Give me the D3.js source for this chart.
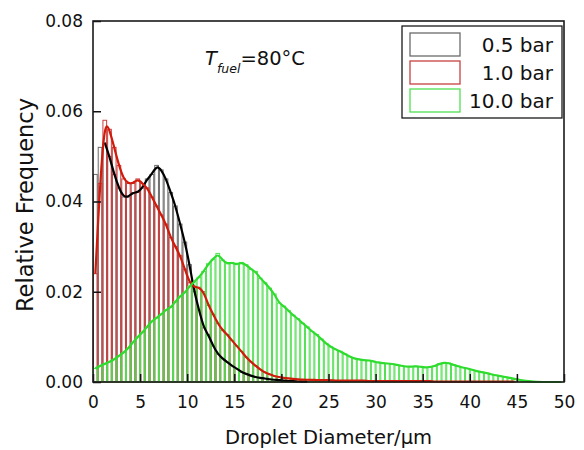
<!DOCTYPE html>
<html>
<head>
<meta charset="utf-8">
<script src="https://cdn.jsdelivr.net/npm/d3@7"></script>
<style>
  body { margin: 0; background: #fff; }
  text { font-family: "DejaVu Sans", sans-serif; }
</style>
</head>
<body>
<div class="d3Chart"></div>
<script>
//#region data

var binWidth = 0.5; // µm
var xTicks = [0, 5, 10, 15, 20, 25, 30, 35, 40, 45, 50];
var yTicks = [0, 0.02, 0.04, 0.06, 0.08];
var seriesNames = ["0.5 bar", "1.0 bar", "10.0 bar"];

// relative frequency per 0.5 µm bin, starting at 0 µm
var bar05 = [
  0.046, 0.052, 0.053, 0.05, 0.046, 0.043, 0.041, 0.041, 0.042, 0.042,
  0.043, 0.045, 0.046, 0.048, 0.047, 0.045, 0.042, 0.039, 0.035, 0.031,
  0.026, 0.02, 0.016, 0.012, 0.0105, 0.008, 0.0062, 0.0052, 0.0044, 0.0036,
  0.003, 0.0022, 0.0018, 0.0014, 0.0011, 0.0009, 0.0008, 0.0006, 0.0005, 0.0004,
  0.0003, 0.0002, 0.0002, 0.0001, 0.0001, 0.0001,
];
var bar10 = [
  0.024, 0.044, 0.058, 0.056, 0.052, 0.048, 0.045, 0.044, 0.044, 0.045,
  0.044, 0.043, 0.041, 0.039, 0.037, 0.035, 0.032, 0.03, 0.028, 0.025,
  0.022, 0.021, 0.021, 0.02, 0.017, 0.015, 0.013, 0.0115, 0.0105, 0.0092,
  0.008, 0.0068, 0.0055, 0.0045, 0.0036, 0.0028, 0.0021, 0.0017, 0.0013, 0.0011,
  0.0009, 0.0008, 0.0007, 0.0006, 0.0005, 0.0005, 0.0005, 0.0004, 0.0004, 0.0004,
  0.0004, 0.0003, 0.0003, 0.0003, 0.0003, 0.0003, 0.0003, 0.0003, 0.0002, 0.0002,
  0.0002, 0.0002, 0.0002, 0.0002, 0.0002, 0.0002, 0.0002, 0.0002, 0.0002, 0.0002,
  0.0002, 0.0002, 0.0001, 0.0001, 0.0001, 0.0001, 0.0001, 0.0001, 0.0001, 0.0001,
  0.0001, 0.0001, 0.0001, 0.0001, 0.0001, 0.0001, 0.0001, 0.0001, 0.0001, 0.0001,
];
var bar100 = [
  0.003, 0.0036, 0.004, 0.0045, 0.005, 0.0058, 0.0065, 0.0075, 0.0088, 0.01,
  0.011, 0.0122, 0.0135, 0.0142, 0.015, 0.016, 0.0165, 0.0178, 0.019, 0.0198,
  0.0212, 0.0222, 0.0232, 0.0245, 0.0262, 0.0272, 0.0285, 0.027, 0.0262, 0.0265,
  0.026, 0.0265, 0.026, 0.025, 0.0245, 0.023, 0.022, 0.0208, 0.0195, 0.0175,
  0.0168, 0.0158, 0.0148, 0.014, 0.013, 0.0122, 0.0112, 0.0105, 0.0095, 0.0085,
  0.0078, 0.0072, 0.0068, 0.0062, 0.0056, 0.0052, 0.005, 0.0048, 0.0048, 0.0046,
  0.0043, 0.0042, 0.0041, 0.004, 0.0038, 0.0036, 0.0034, 0.0034, 0.0035, 0.0034,
  0.0032, 0.0033, 0.0035, 0.004, 0.0043, 0.0042, 0.0038, 0.0035, 0.0032, 0.003,
  0.0027, 0.0024, 0.0022, 0.002, 0.0017, 0.0015, 0.0013, 0.0011, 0.0009, 0.0007,
  0.0005, 0.0003, 0.0002, 0.0001, 0, 0, 0, 0, 0, 0,
];
// first bin that the smoothed curve of each series is drawn from
var curveStart = [2, 0, 0];

//#endregion

//#region canvas

var width = 584;
var height = 450;
var plot = { left: 93, right: 564, top: 21, bottom: 382 };

var svg = d3
  .select(".d3Chart")
  .append("svg")
  .attr("width", width)
  .attr("height", height)
  .style("background-color", "#fff");

var x = d3.scaleLinear().domain([0, 50]).range([plot.left, plot.right]);
var y = d3.scaleLinear().domain([0, 0.08]).range([plot.bottom, plot.top]);

var series = [
  { name: seriesNames[0], values: bar05, bar: "#6a6a6a", line: "#000000" },
  { name: seriesNames[1], values: bar10, bar: "#c84040", line: "#d01a0a" },
  { name: seriesNames[2], values: bar100, bar: "#52df52", line: "#2edc2e" },
];

//#endregion

//#region bars

var barGroup = svg.append("g");
series.forEach(function (s) {
  barGroup
    .append("g")
    .selectAll("rect")
    .data(s.values)
    .enter()
    .append("rect")
    .attr("x", (d, i) => x(i * binWidth) + 0.5)
    .attr("width", x(binWidth) - x(0) - 1)
    .attr("y", (d) => y(d))
    .attr("height", (d) => y(0) - y(d))
    .attr("fill", "none")
    .attr("stroke", s.bar)
    .attr("stroke-width", 1);
});

//#endregion

//#region lines

var line = d3
  .line()
  .x((d) => x(d.i * binWidth + binWidth / 2))
  .y((d) => y(d.v))
  .curve(d3.curveBasis);

series.forEach(function (s, k) {
  var pts = s.values
    .map((v, i) => ({ i: i, v: v }))
    .filter((d) => d.i >= curveStart[k]);
  svg
    .append("path")
    .attr("d", line(pts))
    .attr("fill", "none")
    .attr("stroke", s.line)
    .attr("stroke-width", 2.2)
    .attr("stroke-linejoin", "round");
});

//#endregion

//#region axes

var xAxis = d3
  .axisBottom(x)
  .tickValues(xTicks)
  .tickSizeInner(-8)
  .tickSizeOuter(0)
  .tickPadding(14);
var xg = svg
  .append("g")
  .attr("transform", `translate(0,${plot.bottom})`)
  .call(xAxis);
xg.select(".domain").remove();
xg.selectAll("text")
  .attr("font-size", 17)
  .attr("font-family", "DejaVu Sans")
  .attr("fill", "#111");

var yAxis = d3
  .axisLeft(y)
  .tickValues(yTicks)
  .tickFormat(d3.format(".2f"))
  .tickSizeInner(-8)
  .tickSizeOuter(0)
  .tickPadding(10);
var yg = svg
  .append("g")
  .attr("transform", `translate(${plot.left},0)`)
  .call(yAxis);
yg.select(".domain").remove();
yg.selectAll("text")
  .attr("font-size", 17)
  .attr("font-family", "DejaVu Sans")
  .attr("fill", "#111");
svg.selectAll(".tick line").attr("stroke", "#111").attr("stroke-width", 1.5);

// frame
svg
  .append("rect")
  .attr("x", plot.left)
  .attr("y", plot.top)
  .attr("width", plot.right - plot.left)
  .attr("height", plot.bottom - plot.top)
  .attr("fill", "none")
  .attr("stroke", "#1a1a1a")
  .attr("stroke-width", 1.6);

// titles
svg
  .append("text")
  .attr("x", (plot.left + plot.right) / 2)
  .attr("y", 444)
  .attr("text-anchor", "middle")
  .attr("font-size", 19.5)
  .attr("fill", "#111")
  .text("Droplet Diameter/μm");

svg
  .append("text")
  .attr("transform", "translate(33,205) rotate(-90)")
  .attr("text-anchor", "middle")
  .attr("font-size", 22.5)
  .attr("fill", "#111")
  .text("Relative Frequency");

var note = svg
  .append("text")
  .attr("x", 205)
  .attr("y", 65)
  .attr("font-size", 19.5)
  .attr("fill", "#111");
note.append("tspan").attr("font-style", "italic").text("T");
note
  .append("tspan")
  .attr("font-style", "italic")
  .attr("font-size", 12.5)
  .attr("dy", 8)
  .text("fuel");
note.append("tspan").attr("dy", -8).text("=80°C");

//#endregion

//#region legend

var legend = svg.append("g");
legend
  .append("rect")
  .attr("x", 402)
  .attr("y", 26)
  .attr("width", 160)
  .attr("height", 92)
  .attr("fill", "#fff")
  .attr("stroke", "#1a1a1a")
  .attr("stroke-width", 1.3);

var items = legend
  .selectAll(".item")
  .data(series)
  .enter()
  .append("g")
  .attr("class", "item")
  .attr("transform", (d, i) => `translate(0,${33 + i * 28})`);

items
  .append("rect")
  .attr("x", 410)
  .attr("y", 0)
  .attr("width", 50)
  .attr("height", 23)
  .attr("fill", "none")
  .attr("stroke", (d) => d.bar)
  .attr("stroke-width", 1.3);

items
  .append("text")
  .attr("x", 553)
  .attr("y", 19)
  .attr("text-anchor", "end")
  .attr("font-size", 20)
  .attr("fill", "#111")
  .text((d) => d.name);

//#endregion
</script>
</body>
</html>
